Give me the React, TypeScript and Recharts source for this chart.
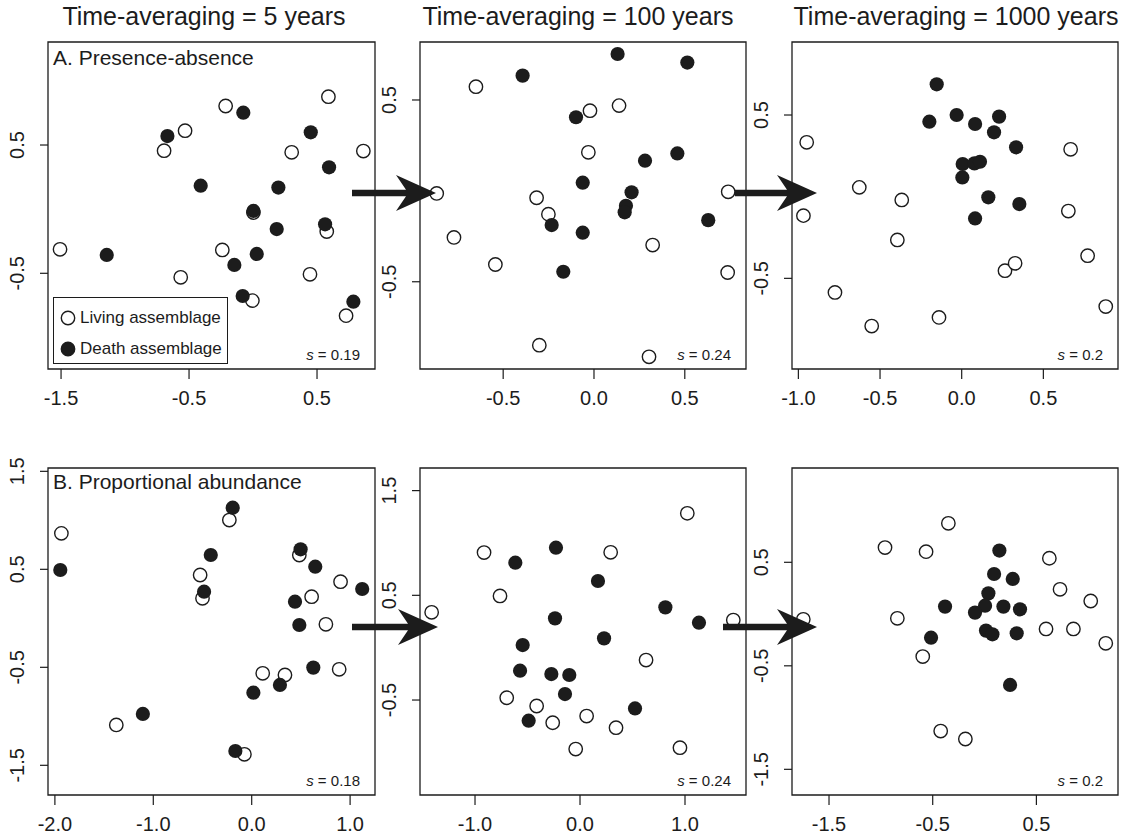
import React from 'react';
import { ScatterChart, Scatter, XAxis, YAxis, ReferenceArea, Legend } from 'recharts';

const FONT = '"Liberation Sans", Arial, Helvetica, sans-serif';
const INK = '#1c1c1c';

type Pt = [number, number];

// ---- Column titles / panel labels ----
const columnTitles = ['Time-averaging = 5 years', 'Time-averaging = 100 years', 'Time-averaging = 1000 years'];
const rowLabels = ['A. Presence-absence', 'B. Proportional abundance'];
const seriesNames = ['Living assemblage', 'Death assemblage'];
const stressValues = ['0.19', '0.24', '0.2', '0.18', '0.24', '0.2'];

// ---- A. Presence-absence ----
const livingA5: Pt[] = [[-1.508,-0.313],[-0.565,-0.531],[-0.695,0.456],[-0.531,0.612],[-0.214,0.804],[-0.240,-0.318],[-0.005,-0.713],[0.003,-0.027],[0.302,0.443],[0.589,0.877],[0.862,0.453],[0.576,-0.175],[0.445,-0.508],[0.727,-0.830]];
const deathA5: Pt[] = [[-1.143,-0.357],[-0.669,0.570],[-0.409,0.183],[-0.076,0.752],[0.003,-0.014],[0.198,0.168],[0.185,-0.155],[0.029,-0.349],[-0.146,-0.435],[-0.081,-0.677],[0.451,0.599],[0.594,0.326],[0.563,-0.118],[0.784,-0.721]];

const livingA100: Pt[] = [[-0.866,-0.014],[-0.771,-0.256],[-0.650,0.573],[-0.543,-0.405],[-0.316,-0.038],[-0.251,-0.128],[-0.301,-0.849],[-0.022,0.441],[-0.031,0.212],[0.138,0.469],[0.323,-0.298],[0.303,-0.913],[0.739,-0.005],[0.736,-0.449]];
const deathA100: Pt[] = [[-0.393,0.634],[-0.099,0.405],[-0.062,0.045],[-0.233,-0.188],[-0.062,-0.230],[-0.169,-0.445],[0.130,0.753],[0.514,0.706],[0.459,0.206],[0.281,0.166],[0.207,-0.008],[0.176,-0.082],[0.169,-0.118],[0.629,-0.161]];

const livingA1000: Pt[] = [[-0.949,0.333],[-0.969,-0.116],[-0.627,0.057],[-0.367,-0.020],[-0.394,-0.265],[-0.776,-0.586],[-0.551,-0.792],[-0.139,-0.739],[0.265,-0.453],[0.327,-0.408],[0.667,0.290],[0.653,-0.088],[0.771,-0.361],[0.882,-0.673]];
const deathA1000: Pt[] = [[-0.153,0.688],[-0.198,0.459],[-0.031,0.500],[0.082,0.445],[0.229,0.490],[0.198,0.394],[0.333,0.302],[0.006,0.200],[0.078,0.204],[0.112,0.214],[0.004,0.118],[0.163,-0.004],[0.353,-0.045],[0.082,-0.133]];

// ---- B. Proportional abundance ----
const livingB5: Pt[] = [[-1.934,0.867],[-1.376,-1.088],[-0.524,0.442],[-0.500,0.204],[-0.227,1.003],[-0.074,-1.388],[0.112,-0.561],[0.338,-0.578],[0.484,0.646],[0.609,0.221],[0.754,-0.061],[0.903,0.374],[0.889,-0.520]];
const deathB5: Pt[] = [[-1.945,0.493],[-1.106,-0.976],[-0.484,0.272],[-0.416,0.646],[-0.193,1.129],[-0.166,-1.354],[0.017,-0.759],[0.287,-0.680],[0.440,0.170],[0.497,0.704],[0.484,-0.068],[0.646,0.527],[0.626,-0.503],[1.123,0.299]];

const livingB100: Pt[] = [[-1.413,0.338],[-0.914,0.908],[-0.762,0.494],[-0.698,-0.478],[-0.413,-0.557],[-0.260,-0.717],[-0.041,-0.968],[0.063,-0.653],[0.292,0.911],[0.343,-0.764],[0.629,-0.118],[1.022,1.283],[0.952,-0.955],[1.460,0.264]];
const deathB100: Pt[] = [[-0.616,0.812],[-0.229,0.955],[0.171,0.637],[0.813,0.385],[1.133,0.239],[-0.238,0.280],[0.229,0.089],[-0.546,0.025],[-0.571,-0.220],[-0.273,-0.252],[-0.102,-0.261],[-0.143,-0.443],[-0.489,-0.697],[0.524,-0.580]];

const livingB1000: Pt[] = [[-1.748,-0.051],[-0.960,0.642],[-0.841,-0.041],[-0.564,0.603],[-0.349,0.877],[-0.596,-0.411],[-0.423,-1.130],[-0.185,-1.207],[0.625,0.539],[0.728,0.239],[1.024,0.126],[0.593,-0.144],[0.857,-0.144],[1.169,-0.283]];
const deathB1000: Pt[] = [[0.143,0.613],[0.092,0.387],[0.272,0.339],[0.037,0.200],[0.005,0.081],[-0.092,0.014],[0.182,0.072],[0.342,0.046],[-0.381,0.072],[0.014,-0.160],[0.076,-0.196],[0.310,-0.186],[-0.516,-0.228],[0.246,-0.685]];

// ---- tick values ----
const xTicksA5 = [-1.5, -0.5, 0.5];
const yTicksA5 = [-0.5, 0.5];
const xTicksA100 = [-0.5, 0, 0.5];
const yTicksA100 = [-0.5, 0.5];
const xTicksA1000 = [-1, -0.5, 0, 0.5];
const yTicksA1000 = [-0.5, 0.5];
const xTicksB5 = [-2, -1, 0, 1];
const yTicksB5 = [-1.5, -0.5, 0.5, 1.5];
const xTicksB100 = [-1, 0, 1];
const yTicksB100 = [-0.5, 0.5, 1.5];
const xTicksB1000 = [-1.5, -0.5, 0.5];
const yTicksB1000 = [-1.5, -0.5, 0.5];

// ---- axis ranges ----
const xDomA5: Pt = [-1.602, 0.953];
const yDomA5: Pt = [-1.246, 1.303];
const xDomA100: Pt = [-0.958, 0.837];
const yDomA100: Pt = [-0.980, 0.819];
const xDomA1000: Pt = [-1.039, 0.957];
const yDomA1000: Pt = [-1.055, 0.947];
const xDomB5: Pt = [-2.070, 1.253];
const yDomB5: Pt = [-1.803, 1.534];
const xDomB100: Pt = [-1.524, 1.581];
const yDomB100: Pt = [-1.407, 1.716];
const xDomB1000: Pt = [-1.857, 1.287];
const yDomB1000: Pt = [-1.748, 1.411];

interface PanelSpec {
  box: [number, number, number, number];
  xDom: Pt; yDom: Pt; xTicks: number[]; yTicks: number[];
  living: Pt[]; death: Pt[]; stress: string;
  label?: string; labelDy?: number; legend?: boolean;
}

const panels: PanelSpec[] = [
  { box: [48, 42, 375, 369], xDom: xDomA5, yDom: yDomA5, xTicks: xTicksA5, yTicks: yTicksA5, living: livingA5, death: deathA5, stress: stressValues[0], label: rowLabels[0], labelDy: 23, legend: true },
  { box: [420, 42, 746, 369], xDom: xDomA100, yDom: yDomA100, xTicks: xTicksA100, yTicks: yTicksA100, living: livingA100, death: deathA100, stress: stressValues[1] },
  { box: [792, 42, 1118, 369], xDom: xDomA1000, yDom: yDomA1000, xTicks: xTicksA1000, yTicks: yTicksA1000, living: livingA1000, death: deathA1000, stress: stressValues[2] },
  { box: [48, 468, 375, 795], xDom: xDomB5, yDom: yDomB5, xTicks: xTicksB5, yTicks: yTicksB5, living: livingB5, death: deathB5, stress: stressValues[3], label: rowLabels[1], labelDy: 20.5 },
  { box: [420, 468, 746, 795], xDom: xDomB100, yDom: yDomB100, xTicks: xTicksB100, yTicks: yTicksB100, living: livingB100, death: deathB100, stress: stressValues[4] },
  { box: [792, 468, 1118, 795], xDom: xDomB1000, yDom: yDomB1000, xTicks: xTicksB1000, yTicks: yTicksB1000, living: livingB1000, death: deathB1000, stress: stressValues[5] },
];

const ML = 45, MT = 22, MR = 5, XH = 45, MB = 5;
const R = 6.7;

const XTick = (p: any) => (
  <text x={p.x} y={p.y} textAnchor="middle" dominantBaseline="central" fontSize={20} fill={INK} fontFamily={FONT}>
    {Number(p.payload.value).toFixed(1)}
  </text>
);
const YTick = (p: any) => (
  <text x={p.x} y={p.y} transform={`rotate(-90 ${p.x} ${p.y})`} textAnchor="middle" dominantBaseline="central" fontSize={20} fill={INK} fontFamily={FONT}>
    {Number(p.payload.value).toFixed(1)}
  </text>
);

const openShape = (p: any) => <circle cx={p.cx} cy={p.cy} r={R} fill="#ffffff" stroke={INK} strokeWidth={1.4} />;
const filledShape = (p: any) => <circle cx={p.cx} cy={p.cy} r={R + 0.4} fill={INK} stroke="none" />;

const LegendBox = (props: any) => {
  const payload: any[] = props.payload || [];
  const ordered = seriesNames.map((n) => payload.find((e) => e.value === n) || { value: n });
  return (
    <div style={{ width: 175, height: 67, boxSizing: 'border-box', border: `1.3px solid ${INK}`, background: '#fff', fontFamily: FONT, fontSize: 17, color: INK, paddingTop: 4 }}>
      {ordered.map((e: any, i: number) => (
        <div key={i} style={{ display: 'flex', alignItems: 'center', height: 31, paddingLeft: 6 }}>
          <svg width={16} height={16} style={{ display: 'block' }}>
            <circle cx={8} cy={8} r={R} fill={i === 0 ? '#fff' : INK} stroke={INK} strokeWidth={1.4} />
          </svg>
          <span style={{ marginLeft: 4, lineHeight: '20px' }}>{e.value}</span>
        </div>
      ))}
    </div>
  );
};

const toObj = (arr: Pt[]) => arr.map(([x, y]) => ({ x, y }));

function Panel({ spec }: { spec: PanelSpec }) {
  const [l, t, r, b] = spec.box;
  const width = r - l + ML + MR;
  const height = b - t + MT + XH + MB;
  return (
    <div style={{ position: 'absolute', left: l - ML, top: t - MT }}>
      <ScatterChart width={width} height={height} margin={{ top: MT, right: MR, bottom: MB, left: 0 }}>
        <XAxis type="number" dataKey="x" domain={spec.xDom} ticks={spec.xTicks} interval={0} allowDataOverflow
          axisLine={false} tickSize={10} tickMargin={19} tickLine={{ stroke: INK, strokeWidth: 1.2 }} tick={XTick} height={XH} />
        <YAxis type="number" dataKey="y" domain={spec.yDom} ticks={spec.yTicks} interval={0} allowDataOverflow
          axisLine={false} tickSize={8} tickMargin={23} tickLine={{ stroke: INK, strokeWidth: 1.2 }} tick={YTick} width={ML} />
        <ReferenceArea x1={spec.xDom[0]} x2={spec.xDom[1]} y1={spec.yDom[0]} y2={spec.yDom[1]} fill="none" fillOpacity={0}
          stroke={INK} strokeWidth={1.3} ifOverflow="visible" />
        <Scatter name={seriesNames[0]} data={toObj(spec.living)} shape={openShape} isAnimationActive={false} />
        <Scatter name={seriesNames[1]} data={toObj(spec.death)} shape={filledShape} isAnimationActive={false} />
        {spec.legend && (
          <Legend layout="vertical" align="center" verticalAlign="middle" content={LegendBox}
            wrapperStyle={{ left: 53 - l + ML, top: 297 - t + MT, width: 175, height: 67 }} />
        )}
      </ScatterChart>
    </div>
  );
}

const arrowPath = (x0: number, x1: number, y: number) => {
  const th = 3.2, hl = 40, hh = 18, notch = 32;
  return `M${x0},${y - th} L${x1 - notch + 2},${y - th} L${x1 - hl},${y - hh} L${x1},${y} L${x1 - hl},${y + hh} L${x1 - notch + 2},${y + th} L${x0},${y + th} Z`;
};

const arrows: [number, number, number][] = [
  [352, 436, 193], [735, 817, 193], [352, 438, 627], [723, 817, 627],
];
const titleX = [204, 578, 956];

export default function App() {
  return (
    <div style={{ position: 'absolute', left: 0, top: 0, width: 1132, height: 837, background: '#fff', fontFamily: FONT }}>
      {panels.map((p, i) => <Panel key={i} spec={p} />)}
      <svg width={1132} height={837} style={{ position: 'absolute', left: 0, top: 0, pointerEvents: 'none' }}>
        {columnTitles.map((s, i) => (
          <text key={i} x={titleX[i]} y={25} textAnchor="middle" fontSize={25} fill={INK} fontFamily={FONT}>{s}</text>
        ))}
        {panels.map((p, i) => (
          <g key={i}>
            {p.label && <text x={p.box[0] + 5} y={p.box[1] + (p.labelDy || 22)} fontSize={21} fill={INK} fontFamily={FONT}>{p.label}</text>}
            <text x={p.box[2] - 15} y={p.box[3] - 9} textAnchor="end" fontSize={15} fill={INK} fontFamily={FONT}>
              <tspan fontStyle="italic">s</tspan> = {p.stress}
            </text>
          </g>
        ))}
        {arrows.map(([a, b, y], i) => <path key={i} d={arrowPath(a, b, y)} fill={INK} />)}
      </svg>
    </div>
  );
}
